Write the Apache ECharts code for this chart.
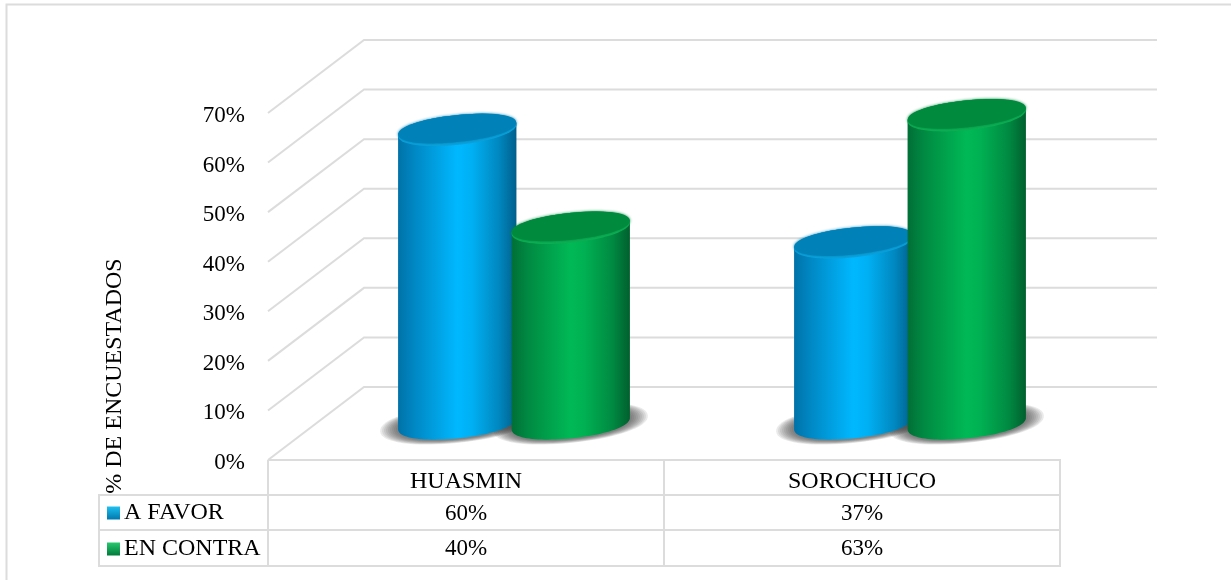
<!DOCTYPE html>
<html><head><meta charset="utf-8">
<style>html,body{margin:0;padding:0;background:#fff}#c{width:1231px;height:580px}</style>
<script src="https://cdn.jsdelivr.net/npm/echarts@6/dist/echarts.min.js"></script>
</head><body><div id="c"></div>
<script>
const categories = ['HUASMIN', 'SOROCHUCO'];
const seriesNames = ['A FAVOR', 'EN CONTRA'];
const aFavor = [60, 37];
const enContra = [40, 63];
const yTicks = [0, 10, 20, 30, 40, 50, 60, 70];

const FONT = '"Liberation Serif","Times New Roman",serif';
const LINE = '#dcdcdc';
const DEPTH_X = 96, DEPTH_Y = 73;
const TILT = -6 * Math.PI / 180;
const ROUND = 0.94;
const ROW = [35, 35, 36];
const LABEL_COL = 169;

const palette = [
  {stops:[[0,'#0072a8'],[0.14,'#0088c4'],[0.5,'#00b8ff'],[0.62,'#00b0f4'],[0.85,'#0088c0'],[1,'#005f8c']], top:'#0082b8', rim:'#0aa2dc', key:['#1fc0f0','#0078ae']},
  {stops:[[0,'#006f36'],[0.14,'#008a42'],[0.5,'#00b956'],[0.62,'#00b052'],[0.85,'#008a42'],[1,'#00602e']], top:'#008a3e', rim:'#0cb054', key:['#28c870','#007a3a']}
];
function hGrad(p){return {type:'linear',x:0,y:0,x2:1,y2:0,colorStops:p.stops.map(s=>({offset:s[0],color:s[1]}))};}
function vGrad(c){return {type:'linear',x:0,y:0,x2:0,y2:1,colorStops:[{offset:0,color:c[0]},{offset:1,color:c[1]}]};}
function pw(u){return Math.sign(u)*Math.pow(Math.abs(u),ROUND);}

function ell(cx,cy,a,b,from,to,n){
  const pts=[];
  for(let i=0;i<=n;i++){
    const t=from+(to-from)*i/n;
    const c=pw(Math.cos(t)), s=pw(Math.sin(t));
    pts.push([cx+a*c*Math.cos(TILT)-b*s*Math.sin(TILT),
              cy+a*c*Math.sin(TILT)+b*s*Math.cos(TILT)]);
  }
  return pts;
}

function cylinder(seriesIdx){
  return function(params,api){
    const i=api.value(0), v=api.value(1);
    const band=api.size([1,0])[0];
    const unit=band*0.1433;
    const cx=api.coord([i,0])[0]+(seriesIdx===0?-1:1)*unit;
    const baseY=api.coord([i,0])[1], topY=api.coord([i,v])[1];
    const a=59.5,b=14.8,p=palette[seriesIdx];
    const lower=ell(cx,baseY,a,b,0,Math.PI,48);
    const upper=ell(cx,topY,a,b,Math.PI,2*Math.PI,48);
    const z=10+seriesIdx*10;
    const shade=[];
    for(let k=0;k<9;k++){
      shade.push({type:'polygon',z2:1,silent:true,
        shape:{points:ell(cx,baseY,a+18-2*k,b+4.5-0.45*k,0,2*Math.PI,72)},
        style:{fill:'rgba(60,60,60,0.11)'}});
    }
    return {type:'group',children:shade.concat([
      {type:'polygon',z2:z,shape:{points:lower.concat(upper)},style:{fill:hGrad(p)}},
      {type:'polygon',z2:z+1,shape:{points:ell(cx,topY,a,b,0,2*Math.PI,72)},style:{fill:p.rim}},
      {type:'polygon',z2:z+2,shape:{points:ell(cx,topY-1.4,a-0.2,b-1.4,0,2*Math.PI,72)},
       style:{fill:p.top,shadowBlur:3,shadowColor:p.top}}
    ])};
  };
}

function gridWalls(params,api){
  const x=params.coordSys.x, y=api.coord([0,api.value(1)])[1], w=params.coordSys.width;
  return {type:'polyline',silent:true,z2:0,
    shape:{points:[[x,y],[x+DEPTH_X,y-DEPTH_Y],[x+DEPTH_X+w+1,y-DEPTH_Y]]},
    style:{stroke:LINE,lineWidth:2,fill:null}};
}

function tableCells(params,api){
  const i=api.value(0), band=api.size([1,0])[0];
  const cx=api.coord([i,0])[0], top=params.coordSys.y+params.coordSys.height;
  const L=cx-band/2, R=cx+band/2;
  const y1=top+ROW[0], y2=y1+ROW[1], y3=y2+ROW[2];
  const st={stroke:LINE,lineWidth:2,fill:null};
  const kids=[
    {type:'polyline',shape:{points:[[L,top],[R,top],[R,y3],[L,y3],[L,top]]},style:st},
    {type:'line',shape:{x1:L,y1:y1,x2:R,y2:y1},style:st},
    {type:'line',shape:{x1:L,y1:y2,x2:R,y2:y2},style:st},
    {type:'text',x:cx,y:(y1+y2)/2+1,style:{text:api.value(1)+'%',font:'23px '+FONT,fill:'#000',textAlign:'center',textVerticalAlign:'middle'}},
    {type:'text',x:cx,y:(y2+y3)/2+1,style:{text:api.value(2)+'%',font:'23px '+FONT,fill:'#000',textAlign:'center',textVerticalAlign:'middle'}}
  ];
  if(i===0){
    kids.push({type:'polyline',shape:{points:[[L,y1],[L-LABEL_COL,y1],[L-LABEL_COL,y3],[L,y3]]},style:st});
    kids.push({type:'line',shape:{x1:L-LABEL_COL,y1:y2,x2:L,y2:y2},style:st});
  }
  return {type:'group',silent:true,children:kids};
}

const option={
  backgroundColor:'#fff',
  animation:false,
  graphic:[
    {type:'polyline',shape:{points:[[6.5,580],[6.5,4.5],[1231,4.5]]},style:{stroke:LINE,lineWidth:2,fill:null},silent:true},
    {type:'text',x:115,y:376,rotation:Math.PI/2,style:{text:'% DE ENCUESTADOS',font:'24px '+FONT,fill:'#000',textAlign:'center',textVerticalAlign:'middle'},silent:true}
  ],
  legend:{
    orient:'vertical',left:107,top:501,padding:0,itemWidth:13,itemHeight:13,itemGap:12,selectedMode:false,
    textStyle:{fontFamily:FONT,fontSize:24,color:'#000',padding:[0,0,0,-1]},
    data:seriesNames.map((n,k)=>({name:n,icon:'rect',itemStyle:{color:vGrad(palette[k].key)}}))
  },
  grid:[
    {left:268,top:113,width:792,height:347},
    {left:316,top:81,width:792,height:342.5},
    {left:268,top:116,width:792,height:347}
  ],
  xAxis:[
    {gridIndex:0,type:'category',data:categories,axisTick:{show:false},axisLine:{show:false},
     axisLabel:{margin:10,fontFamily:FONT,fontSize:24,color:'#000'}},
    {gridIndex:1,type:'category',data:categories,show:false},
    {gridIndex:2,type:'category',data:categories,show:false}
  ],
  yAxis:[
    {gridIndex:0,type:'value',min:0,max:70,interval:10,show:false,splitLine:{show:false}},
    {gridIndex:1,type:'value',min:0,max:70,interval:10,show:false,splitLine:{show:false}},
    {gridIndex:2,type:'value',min:0,max:70,interval:10,axisLine:{show:false},axisTick:{show:false},splitLine:{show:false},
     axisLabel:{margin:23,fontFamily:FONT,fontSize:23,color:'#000',formatter:'{value}%'}}
  ],
  series:[
    {type:'custom',name:'walls',xAxisIndex:0,yAxisIndex:0,renderItem:gridWalls,data:yTicks.map(v=>[0,v]),silent:true,z:1},
    {type:'custom',name:'table',xAxisIndex:0,yAxisIndex:0,renderItem:tableCells,data:categories.map((c,i)=>[i,aFavor[i],enContra[i]]),encode:{x:0,y:1},silent:true,z:1},
    {type:'custom',name:seriesNames[0],xAxisIndex:1,yAxisIndex:1,renderItem:cylinder(0),data:aFavor.map((v,i)=>[i,v]),itemStyle:{color:palette[0].top},z:2},
    {type:'custom',name:seriesNames[1],xAxisIndex:1,yAxisIndex:1,renderItem:cylinder(1),data:enContra.map((v,i)=>[i,v]),itemStyle:{color:palette[1].top},z:2},
    {type:'custom',name:'scale',xAxisIndex:2,yAxisIndex:2,renderItem:function(){return {type:'group',children:[]};},data:yTicks.map(v=>[0,v]),silent:true}
  ]
};
echarts.init(document.getElementById('c'),null,{renderer:'canvas'}).setOption(option);
</script></body></html>
